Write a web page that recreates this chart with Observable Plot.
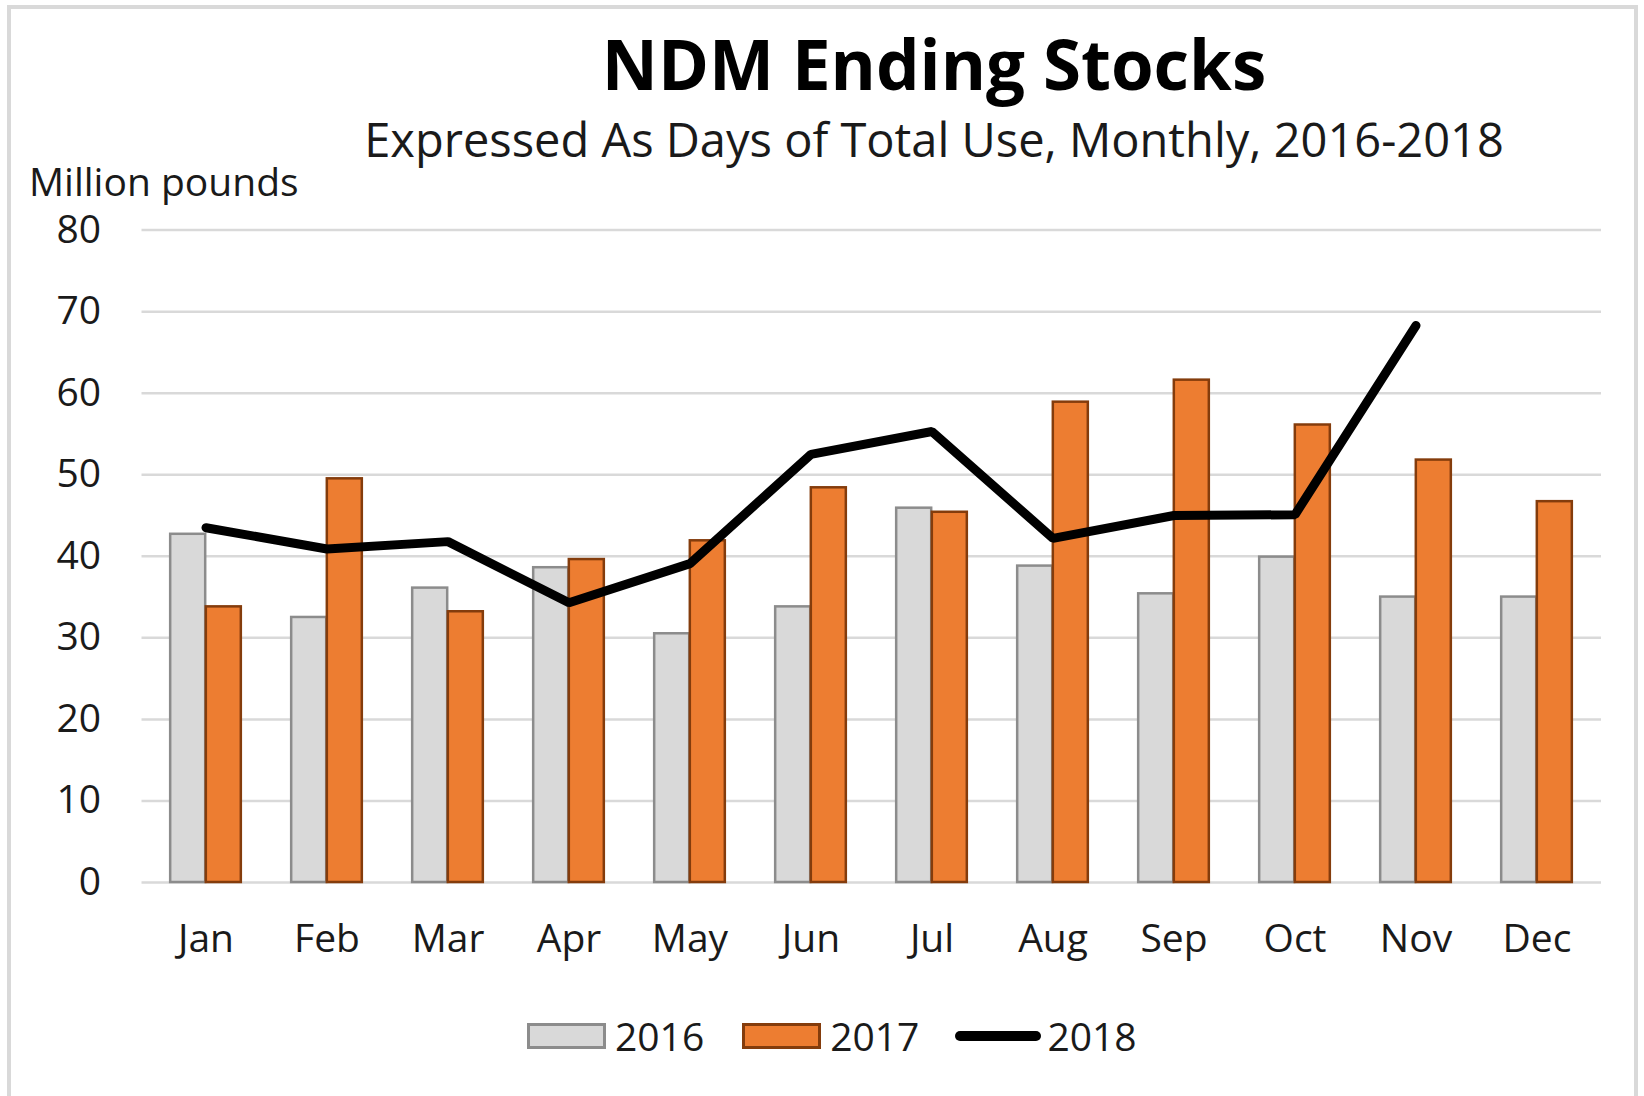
<!DOCTYPE html>
<html>
<head>
<meta charset="utf-8">
<script src="https://cdn.jsdelivr.net/npm/d3@7"></script>
<script src="https://cdn.jsdelivr.net/npm/@observablehq/plot@0.6"></script>
<style>
  html, body { margin: 0; padding: 0; background: #fff; }
  #wrap { position: relative; width: 1644px; height: 1096px; overflow: hidden; font-family: "Open Sans", sans-serif; color: #1a1a1a; }
  #frame { position: absolute; left: 7px; top: 5px; width: 1631px; height: 1100px; border: 4px solid #d9d9d9; box-sizing: border-box; }
  .abs { position: absolute; white-space: nowrap; line-height: 1; }
  #title { left: 934px; top: 29px; transform: translateX(-50%); font-size: 69px; font-weight: 700; color: #000; }
  #subtitle { left: 934px; top: 116px; transform: translateX(-50%); font-size: 47px; }
  #ylabel { left: 29px; top: 166px; font-size: 39px; line-height: 0.75; }
  #chart { position: absolute; left: 0; top: 160px; }
  #legend { position: absolute; top: 1016px; left: 527px; display: flex; align-items: center; font-size: 39px; line-height: 1; }
  .sw { display: inline-block; box-sizing: border-box; }
  .item { display: flex; align-items: center; }
</style>
</head>
<body>
<div id="wrap">
  <div id="frame"></div>
  <div id="title" class="abs">NDM Ending Stocks</div>
  <div id="subtitle" class="abs">Expressed As Days of Total Use, Monthly, 2016-2018</div>
  <div id="ylabel" class="abs">Million pounds</div>
  <div id="chart"></div>
  <div id="legend"></div>
</div>
<script>
const months = ["Jan","Feb","Mar","Apr","May","Jun","Jul","Aug","Sep","Oct","Nov","Dec"];
const values2016 = [42.7, 32.5, 36.1, 38.6, 30.5, 33.8, 45.9, 38.8, 35.4, 39.9, 35.0, 35.0];
const values2017 = [33.8, 49.5, 33.2, 39.6, 41.9, 48.4, 45.4, 58.9, 61.6, 56.1, 51.8, 46.7];
const values2018 = [43.5, 40.9, 41.8, 34.3, 39.1, 52.5, 55.3, 42.2, 45.0, 45.1, 68.3];
const yTicks = [0, 10, 20, 30, 40, 50, 60, 70, 80];
const seriesNames = ["2016", "2017", "2018"];

const data2016 = months.map((m, i) => ({month: m, value: values2016[i]}));
const data2017 = months.map((m, i) => ({month: m, value: values2017[i]}));
const data2018 = values2018.map((v, i) => ({month: months[i], value: v}));

const W = 1644, H = 840;
const mL = 141.5, mR = 43, mT = 69.6, mB = 118;
const bw = (W - mL - mR) / months.length;
const barW = bw * 0.293;
const gap = bw / 2 - barW;

const chart = Plot.plot({
  width: W,
  height: H,
  marginLeft: mL,
  marginRight: mR,
  marginTop: mT,
  marginBottom: mB,
  style: {fontFamily: "'Open Sans', sans-serif", fontSize: "39px", color: "#1a1a1a", background: "transparent"},
  x: {type: "band", domain: months, padding: 0, label: null},
  y: {domain: [0, 80], label: null},
  marks: [
    Plot.gridY(yTicks, {stroke: "#d9d9d9", strokeOpacity: 1, strokeWidth: 2.5}),
    Plot.barY(data2016, {x: "month", y: "value", fill: "#d9d9d9", stroke: "#8c8c8c", strokeWidth: 2.5, insetLeft: gap, insetRight: bw / 2}),
    Plot.barY(data2017, {x: "month", y: "value", fill: "#ed7d31", stroke: "#843c0c", strokeWidth: 2.5, insetLeft: bw / 2, insetRight: gap}),
    Plot.line(data2018, {x: "month", y: "value", stroke: "#000", strokeWidth: 9, strokeLinecap: "round", strokeLinejoin: "miter"}),
    Plot.axisY(yTicks, {tickSize: 0, tickPadding: 41, fontSize: 39}),
    Plot.axisX({tickSize: 0, tickPadding: 42, fontSize: 39})
  ]
});
document.getElementById("chart").appendChild(chart);

// legend
const legend = document.getElementById("legend");
const legendStyles = [
  {type: "rect", fill: "#d9d9d9", stroke: "#8c8c8c"},
  {type: "rect", fill: "#ed7d31", stroke: "#843c0c"},
  {type: "line", fill: "#000", stroke: "#000"}
];
seriesNames.forEach((name, i) => {
  const item = document.createElement("div");
  item.className = "item";
  const sw = document.createElement("span");
  sw.className = "sw";
  const st = legendStyles[i];
  if (st.type === "rect") {
    sw.style.width = "79px"; sw.style.height = "26px";
    sw.style.background = st.fill; sw.style.border = "3px solid " + st.stroke;
  } else {
    sw.style.width = "86px"; sw.style.height = "10px";
    sw.style.background = st.fill; sw.style.borderRadius = "5px";
  }
  const tx = document.createElement("span");
  tx.textContent = name;
  tx.style.marginLeft = i === 2 ? "6px" : "9px";
  item.appendChild(sw);
  item.appendChild(tx);
  if (i < 2) item.style.marginRight = i === 0 ? "38px" : "36px";
  legend.appendChild(item);
});
</script>
</body>
</html>
